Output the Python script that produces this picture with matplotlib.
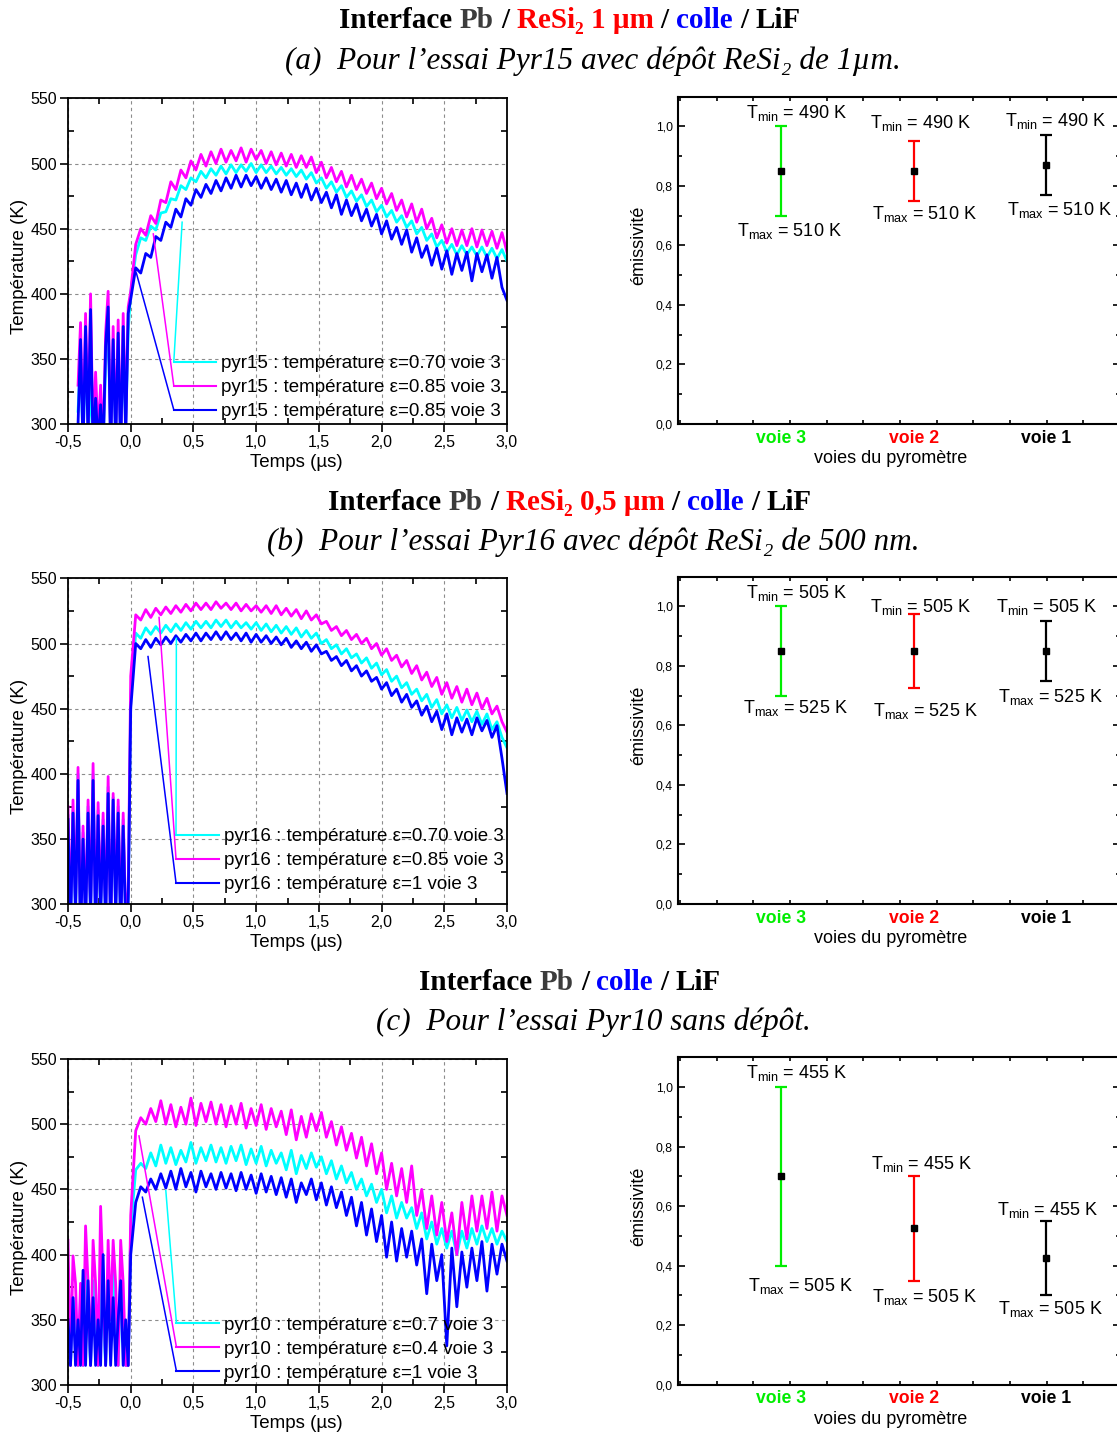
import matplotlib
matplotlib.use("Agg")
import matplotlib.pyplot as plt
from matplotlib.ticker import MultipleLocator, FuncFormatter
from matplotlib.transforms import ScaledTranslation

plt.rcParams['font.family'] = ['Liberation Sans', 'DejaVu Sans']

# ---------------- data: temperature traces ----------------
t_pre_a = [-0.42, -0.40, -0.38, -0.36, -0.34, -0.32, -0.30, -0.28, -0.26, -0.24,
           -0.22, -0.20, -0.18, -0.16, -0.14, -0.12, -0.10, -0.08, -0.06, -0.04, -0.02]
t_pre_bc = [-0.50, -0.48, -0.46, -0.44, -0.42, -0.40, -0.38, -0.36, -0.34, -0.32,
            -0.30, -0.28, -0.26, -0.24, -0.22, -0.20, -0.18, -0.16, -0.14, -0.12,
            -0.10, -0.08, -0.06, -0.04, -0.02]
t_main = [0.00, 0.04, 0.08, 0.12, 0.16, 0.20, 0.24, 0.28, 0.32, 0.36,
          0.40, 0.44, 0.48, 0.52, 0.56, 0.60, 0.64, 0.68, 0.72, 0.76,
          0.80, 0.84, 0.88, 0.92, 0.96, 1.00, 1.04, 1.08, 1.12, 1.16,
          1.20, 1.24, 1.28, 1.32, 1.36, 1.40, 1.44, 1.48, 1.52, 1.56,
          1.60, 1.64, 1.68, 1.72, 1.76, 1.80, 1.84, 1.88, 1.92, 1.96,
          2.00, 2.04, 2.08, 2.12, 2.16, 2.20, 2.24, 2.28, 2.32, 2.36,
          2.40, 2.44, 2.48, 2.52, 2.56, 2.60, 2.64, 2.68, 2.72, 2.76,
          2.80, 2.84, 2.88, 2.92, 2.96, 3.00]

# pyr15
pre15_cyan = [310, 350, 285, 360, 295, 330, 280, 325, 290, 320, 282, 345, 380, 285, 350, 290, 355, 285, 360, 300, 372]
pre15_mag = [330, 378, 290, 385, 300, 400, 285, 340, 290, 330, 280, 370, 402, 280, 375, 290, 380, 280, 385, 300, 390]
pre15_blue = [300, 365, 280, 375, 290, 388, 280, 320, 285, 315, 280, 360, 390, 280, 365, 285, 370, 280, 375, 290, 385]
pyr15_cyan = [401, 430, 443, 441, 452, 449, 462, 463, 473, 472,
              483, 480, 489, 486, 494, 489, 496, 491, 498, 492,
              499, 493, 499, 494, 500, 493, 499, 493, 498, 492,
              497, 491, 496, 490, 495, 488, 493, 485, 489, 481,
              486, 478, 483, 474, 479, 471, 476, 467, 472, 463,
              468, 459, 464, 455, 460, 451, 456, 446, 451, 441,
              446, 436, 441, 432, 438, 430, 437, 430, 436, 429,
              436, 428, 435, 427, 434, 425]
pyr15_mag = [402, 438, 450, 445, 460, 454, 472, 470, 486, 480,
             495, 489, 502, 495, 507, 498, 509, 500, 511, 501,
             510, 502, 512, 501, 511, 503, 510, 500, 509, 499,
             508, 498, 507, 497, 506, 497, 505, 493, 501, 489,
             497, 486, 494, 482, 491, 480, 488, 477, 485, 473,
             481, 469, 477, 464, 472, 459, 469, 455, 465, 450,
             458, 443, 453, 439, 450, 437, 449, 437, 450, 436,
             449, 437, 448, 435, 447, 432]
pyr15_blue = [396, 420, 416, 431, 428, 444, 441, 455, 451, 465,
              459, 473, 468, 480, 474, 484, 477, 487, 479, 489,
              481, 491, 482, 491, 483, 490, 481, 489, 480, 488,
              478, 487, 476, 485, 474, 484, 472, 481, 470, 478,
              466, 476, 461, 472, 460, 469, 456, 465, 452, 461,
              446, 456, 442, 451, 438, 449, 432, 443, 428, 437,
              422, 435, 419, 433, 415, 431, 418, 432, 410, 431,
              417, 430, 412, 428, 405, 395]

# pyr16
pre16_cyan = [368, 285, 372, 295, 400, 280, 355, 288, 375, 292, 400, 282, 372, 295, 365, 288, 390, 282, 382, 295, 375, 282, 365, 288, 305]
pre16_mag = [375, 290, 380, 300, 405, 280, 360, 290, 380, 295, 408, 285, 378, 300, 370, 290, 398, 280, 385, 300, 380, 285, 370, 290, 310]
pre16_blue = [365, 280, 370, 290, 395, 275, 350, 285, 370, 290, 395, 280, 368, 290, 360, 285, 385, 280, 380, 290, 370, 280, 360, 285, 300]
pyr16_cyan = [460, 508, 504, 512, 507, 513, 508, 514, 509, 515,
              510, 516, 511, 517, 512, 517, 512, 518, 513, 518,
              512, 517, 512, 516, 511, 516, 510, 515, 509, 514,
              508, 513, 507, 512, 505, 510, 504, 508, 500, 503,
              496, 499, 492, 496, 489, 492, 485, 489, 481, 485,
              476, 480, 471, 475, 466, 470, 461, 465, 456, 461,
              451, 457, 446, 453, 443, 451, 441, 449, 440, 448,
              438, 446, 434, 440, 428, 420]
pyr16_mag = [475, 522, 518, 526, 520, 527, 522, 528, 523, 529,
             524, 530, 525, 531, 526, 531, 526, 532, 527, 531,
             526, 531, 525, 530, 525, 529, 524, 529, 523, 529,
             522, 527, 521, 526, 519, 525, 518, 522, 515, 517,
             510, 513, 506, 510, 503, 507, 500, 504, 496, 500,
             491, 496, 487, 491, 482, 487, 477, 483, 472, 478,
             467, 474, 461, 470, 458, 467, 455, 465, 453, 462,
             450, 458, 446, 452, 440, 432]
pyr16_blue = [450, 500, 496, 503, 497, 504, 499, 505, 500, 506,
              501, 507, 502, 508, 502, 508, 503, 509, 503, 509,
              503, 508, 502, 508, 501, 507, 501, 506, 500, 505,
              499, 504, 497, 502, 496, 501, 494, 499, 492, 494,
              487, 490, 483, 487, 479, 483, 475, 479, 471, 474,
              465, 470, 460, 465, 455, 461, 451, 456, 445, 452,
              440, 448, 434, 446, 430, 443, 432, 442, 430, 443,
              433, 441, 428, 437, 412, 385]

# pyr10
pre10_cyan = [390, 315, 367, 350, 315, 367, 315, 388, 350, 315, 380, 350, 315, 400, 350, 315, 380, 350, 390, 350, 315, 380, 350, 315, 315]
pre10_mag = [411, 315, 399, 378, 315, 378, 315, 422, 378, 315, 411, 378, 315, 437, 378, 315, 411, 350, 411, 378, 315, 411, 378, 315, 315]
pre10_blue = [350, 315, 367, 315, 350, 315, 388, 315, 380, 315, 367, 315, 350, 315, 400, 315, 380, 315, 367, 315, 350, 380, 315, 350, 315]
pyr10_cyan = [420, 465, 470, 466, 478, 468, 484, 470, 482, 469,
              480, 471, 486, 470, 482, 472, 484, 471, 482, 470,
              483, 472, 484, 469, 481, 470, 483, 468, 480, 470,
              478, 465, 480, 462, 476, 466, 478, 467, 475, 462,
              472, 458, 468, 455, 463, 450, 458, 445, 454, 440,
              450, 432, 445, 428, 440, 428, 436, 420, 432, 412,
              425, 408, 420, 405, 418, 400, 418, 405, 420, 408,
              422, 410, 420, 408, 418, 410]
pyr10_mag = [430, 495, 505, 500, 512, 502, 518, 500, 515, 498,
             513, 500, 520, 499, 516, 502, 517, 500, 515, 498,
             514, 500, 516, 497, 512, 499, 515, 496, 512, 498,
             510, 492, 511, 488, 506, 490, 508, 495, 509, 490,
             502, 484, 498, 480, 493, 474, 490, 468, 485, 462,
             478, 450, 470, 445, 466, 440, 468, 430, 450, 420,
             445, 415, 440, 410, 432, 400, 440, 412, 445, 418,
             445, 420, 448, 418, 445, 430]
pyr10_blue = [400, 440, 452, 448, 458, 450, 462, 451, 464, 450,
              466, 452, 463, 448, 464, 452, 462, 450, 463, 451,
              462, 449, 463, 450, 461, 447, 462, 448, 460, 446,
              459, 444, 458, 440, 455, 446, 458, 442, 455, 438,
              452, 436, 448, 430, 444, 422, 440, 415, 435, 410,
              430, 398, 425, 395, 420, 398, 418, 392, 412, 370,
              408, 380, 400, 330, 405, 360, 402, 375, 405, 380,
              410, 372, 408, 385, 408, 395]

labels15 = ['pyr15 : température ε=0.70 voie 3', 'pyr15 : température ε=0.85 voie 3',
            'pyr15 : température ε=0.85 voie 3']
labels16 = ['pyr16 : température ε=0.70 voie 3', 'pyr16 : température ε=0.85 voie 3',
            'pyr16 : température ε=1 voie 3']
labels10 = ['pyr10 : température ε=0.7 voie 3', 'pyr10 : température ε=0.4 voie 3',
            'pyr10 : température ε=1 voie 3']

# point of each trace from which Origin drew the line to the legend sample
leader15 = [(0.41, 455), (0.18, 446), (0.045, 416)]
leader16 = [(0.364, 504), (0.226, 520), (0.138, 490)]
leader10 = [(0.28, 449), (0.066, 491), (0.093, 444)]

# ---------------- data: emissivity ----------------
voies = ['voie 3', 'voie 2', 'voie 1']
emis15 = [0.85, 0.85, 0.87]
low15 = [0.70, 0.75, 0.77]
high15 = [1.00, 0.95, 0.97]
emis16 = [0.85, 0.85, 0.85]
low16 = [0.70, 0.725, 0.75]
high16 = [1.00, 0.975, 0.95]
emis10 = [0.70, 0.525, 0.425]
low10 = [0.40, 0.35, 0.30]
high10 = [1.00, 0.70, 0.55]
tmin15, tmax15 = [490, 490, 490], [510, 510, 510]
tmin16, tmax16 = [505, 505, 505], [525, 525, 525]
tmin10, tmax10 = [455, 455, 455], [505, 505, 505]

# label placement (data coords of each panel)
tmin_pos15 = [(0.736, 1.045), (1.67, 1.011), (2.688, 1.017)]
tmax_pos15 = [(0.666, 0.649), (1.683, 0.706), (2.70, 0.72)]
tmin_pos16 = [(0.736, 1.046), (1.67, 0.998), (2.62, 0.998)]
tmax_pos16 = [(0.711, 0.659), (1.696, 0.648), (2.633, 0.696)]
tmin_pos10 = [(0.736, 1.046), (1.676, 0.74), (2.625, 0.588)]
tmax_pos10 = [(0.754, 0.332), (1.683, 0.296), (2.633, 0.254)]

TRACE_COLORS = ['#00ffff', '#ff00ff', '#0000ff']
VOIE_COLORS = ['#00ee00', '#ff0000', '#000000']

W, H = 1117, 1434
fig = plt.figure(figsize=(W / 100, H / 100), dpi=100)


def px_axes(x0, y0, x1, y1):
    return fig.add_axes([x0 / W, 1 - y1 / H, (x1 - x0) / W, (y1 - y0) / H])


comma1 = FuncFormatter(lambda v, p: f'{v:.1f}'.replace('.', ','))


def temp_panel(ax, t_pre, pres, mains, labels, leg_x, leg_y):
    lines = []
    for pre, main, c in zip(pres, mains, TRACE_COLORS):
        ln, = ax.plot(t_pre + t_main, pre + main, color=c, lw=2.0)
        lines.append(ln)
    ax.set_xlim(-0.5, 3.0)
    ax.set_ylim(300, 550)
    ax.xaxis.set_major_locator(MultipleLocator(0.5))
    ax.xaxis.set_minor_locator(MultipleLocator(0.25))
    ax.yaxis.set_major_locator(MultipleLocator(50))
    ax.yaxis.set_minor_locator(MultipleLocator(25))
    ax.xaxis.set_major_formatter(comma1)
    ax.grid(True, which='major', ls=(0, (3, 3)), color='#8c8c8c', lw=0.8)
    ax.set_axisbelow(True)
    ax.tick_params(which='major', direction='out', length=6, width=1.2,
                   labelsize=11.5, pad=2)
    ax.tick_params(which='minor', direction='in', length=4, width=1.2,
                   top=True, right=True)
    for s in ax.spines.values():
        s.set_linewidth(1.3)
    ax.set_xlabel('Temps (µs)', fontsize=13.5)
    ax.set_ylabel('Température (K)', fontsize=13.5)
    ax.xaxis.set_label_coords(0.519, -0.092)
    ax.yaxis.set_label_coords(-0.09, 0.484)
    leg = ax.legend(lines, labels, loc='lower left', bbox_to_anchor=(leg_x, leg_y),
                    frameon=False, fontsize=13.5, handlelength=2.27,
                    handletextpad=0.27, labelspacing=0.37, borderpad=0,
                    borderaxespad=0)
    for h in leg.get_lines():
        h.set_linewidth(1.5)
    return leg


def emis_panel(ax, emis, low, high, tmin, tmax, tmin_pos, tmax_pos):
    xs = [1, 2, 3]
    for x, e, lo, hi, c in zip(xs, emis, low, high, VOIE_COLORS):
        ax.errorbar([x], [e], yerr=[[e - lo], [hi - e]], fmt='s', color=c,
                    mfc='k', mec='k', ms=5, elinewidth=1.6, capsize=4.5,
                    capthick=1.6)
    for (x, y), v in zip(tmin_pos, tmin):
        ax.text(x, y, r'$\mathregular{T_{min}}$ = %d K' % v, fontsize=13,
                ha='left', va='center')
    for (x, y), v in zip(tmax_pos, tmax):
        ax.text(x, y, r'$\mathregular{T_{max}}$ = %d K' % v, fontsize=13,
                ha='left', va='center')
    ax.set_xlim(0.226, 3.555)
    ax.set_ylim(0, 1.1)
    ax.set_xticks(xs)
    ax.set_xticklabels(voies, fontsize=12.7, fontweight='bold')
    shift = ScaledTranslation(7 / 100, 0, fig.dpi_scale_trans)
    for lbl, c in zip(ax.get_xticklabels(), VOIE_COLORS):
        lbl.set_color(c)
        lbl.set_transform(lbl.get_transform() + shift)
    ax.xaxis.set_minor_locator(MultipleLocator(0.2763, offset=0.5155))
    ax.yaxis.set_major_locator(MultipleLocator(0.2))
    ax.yaxis.set_minor_locator(MultipleLocator(0.1))
    ax.yaxis.set_major_formatter(comma1)
    ax.tick_params(axis='x', which='major', length=0, pad=4)
    ax.tick_params(axis='x', which='minor', direction='in', length=3, width=1.2,
                   top=True)
    ax.tick_params(axis='y', which='major', direction='in', length=5, width=1.2,
                   labelsize=8.7, right=True, pad=4)
    ax.tick_params(axis='y', which='minor', direction='in', length=3, width=1.2,
                   right=True)
    for s in ax.spines.values():
        s.set_linewidth(1.5)
    ax.set_xlabel('voies du pyromètre', fontsize=13)
    ax.set_ylabel('émissivité', fontsize=13)
    ax.xaxis.set_label_coords(0.4815, -0.079)
    ax.yaxis.set_label_coords(-0.071, 0.545)


# ---------------- panels ----------------
axa = px_axes(68, 98.3, 507, 424.3)
axb = px_axes(68, 578.3, 507, 904.3)
axc = px_axes(68, 1059, 507, 1385)
leg_a = temp_panel(axa, t_pre_a, [pre15_cyan, pre15_mag, pre15_blue],
                   [pyr15_cyan, pyr15_mag, pyr15_blue], labels15, 0.241, 0.012)
leg_b = temp_panel(axb, t_pre_bc, [pre16_cyan, pre16_mag, pre16_blue],
                   [pyr16_cyan, pyr16_mag, pyr16_blue], labels16, 0.246, 0.034)
leg_c = temp_panel(axc, t_pre_bc, [pre10_cyan, pre10_mag, pre10_blue],
                   [pyr10_cyan, pyr10_mag, pyr10_blue], labels10, 0.247, 0.01)

exa = px_axes(678.3, 96.7, 1120, 424)
exb = px_axes(678.3, 576.7, 1120, 904)
exc = px_axes(678.3, 1057.3, 1120, 1384.7)
emis_panel(exa, emis15, low15, high15, tmin15, tmax15, tmin_pos15, tmax_pos15)
emis_panel(exb, emis16, low16, high16, tmin16, tmax16, tmin_pos16, tmax_pos16)
emis_panel(exc, emis10, low10, high10, tmin10, tmax10, tmin_pos10, tmax_pos10)

# ---------------- headings ----------------
ov = fig.add_axes([0, 0, 1, 1], zorder=-5)
ov.set_axis_off()
SERIF = ['Liberation Serif', 'DejaVu Serif']
GRAY = '#3c3c3c'
title_rows = [
    (21, [('Interface', 'k'), ('Pb', GRAY), ('/', 'k'), ('ReSi₂ 1 µm', 'red'),
          ('/', 'k'), ('colle', 'blue'), ('/', 'k'), ('LiF', 'k')]),
    (502, [('Interface', 'k'), ('Pb', GRAY), ('/', 'k'), ('ReSi₂ 0,5 µm', 'red'),
           ('/', 'k'), ('colle', 'blue'), ('/', 'k'), ('LiF', 'k')]),
    (982, [('Interface', 'k'), ('Pb', GRAY), ('/', 'k'), ('colle', 'blue'),
           ('/', 'k'), ('LiF', 'k')]),
]
subtitles = [
    (61, '(a)  Pour l’essai Pyr15 avec dépôt ReSi₂ de 1µm.'),
    (542, '(b)  Pour l’essai Pyr16 avec dépôt ReSi₂ de 500 nm.'),
    (1022, '(c)  Pour l’essai Pyr10 sans dépôt.'),
]
TSIZE = 21
heads = []
for ypx, pieces in title_rows:
    first = ov.text(0.5, 1 - ypx / H, pieces[0][0], color=pieces[0][1],
                    family=SERIF, fontweight='bold', fontsize=TSIZE,
                    va='center', ha='left', transform=fig.transFigure)
    prev = first
    for s, c in pieces[1:]:
        prev = ov.annotate(s, xy=(1, 0), xycoords=(prev, first),
                           xytext=(0.25 * TSIZE, 0), textcoords='offset points',
                           color=c, family=SERIF, fontweight='bold',
                           fontsize=TSIZE, va='bottom', ha='left')
    heads.append((ypx, first, prev))
for ypx, s in subtitles:
    fig.text(593 / W, 1 - ypx / H, s, family=SERIF, style='italic',
             fontsize=22.5, ha='center', va='center')

# ---------------- finish: centre headings and draw leaders ----------------
fig.canvas.draw()
r = fig.canvas.get_renderer()
for ypx, first, last in heads:
    b0 = first.get_window_extent(r)
    b1 = last.get_window_extent(r)
    width = b1.x1 - b0.x0
    first.set_x((570 - width / 2) / W)

for ax, leg, leaders in [(axa, leg_a, leader15), (axb, leg_b, leader16),
                         (axc, leg_c, leader10)]:
    inv = ax.transData.inverted()
    for h, (px, py), c in zip(leg.get_lines(), leaders, TRACE_COLORS):
        bb = h.get_window_extent(r)
        lx, ly = inv.transform((bb.x0, (bb.y0 + bb.y1) / 2))
        ax.plot([px, lx], [py, ly], color=c, lw=1.1)

fig.savefig('out.png', dpi=100)
